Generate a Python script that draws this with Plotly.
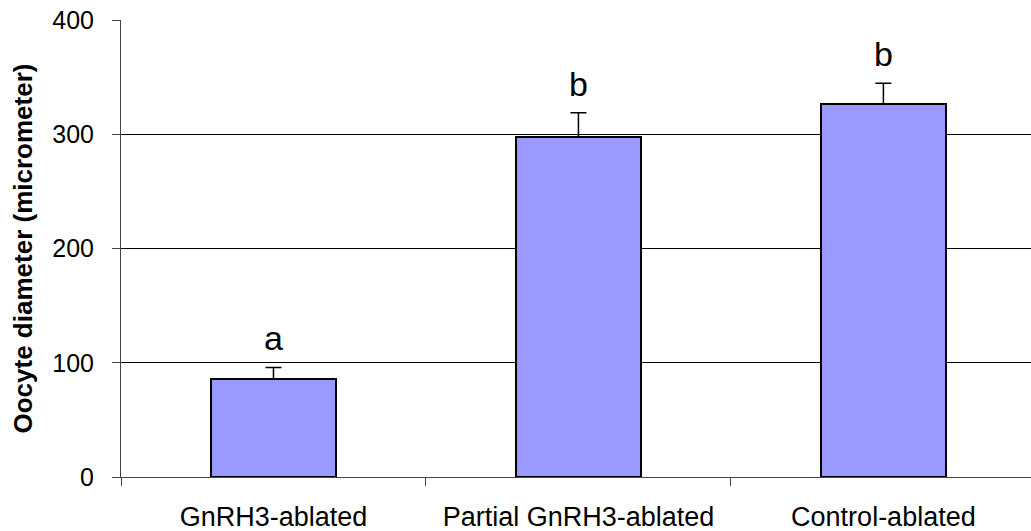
import plotly.graph_objects as go

categories = ["GnRH3-ablated", "Partial GnRH3-ablated", "Control-ablated"]
means = [86, 298, 327]
errors = [10, 21, 18]
letters = ["a", "b", "b"]
y_ticks = [0, 100, 200, 300, 400]
y_title = "<b>Oocyte diameter (micrometer)</b>"

FONT = "Liberation Sans, Arial, sans-serif"

fig = go.Figure()
fig.add_trace(go.Bar(
    x=categories, y=means, width=0.41,
    marker=dict(color="#9999FF", line=dict(color="black", width=2)),
    error_y=dict(type="data", symmetric=False, array=errors,
                 arrayminus=[0] * len(errors), color="black",
                 thickness=1.5, width=8),
))

for c, m, e, l in zip(categories, means, errors, letters):
    fig.add_annotation(x=c, y=m + e, text=l, showarrow=False,
                       yanchor="bottom", yshift=8,
                       font=dict(family=FONT, size=34, color="black"))

fig.add_annotation(x=0, y=0.5, xref="paper", yref="paper", text=y_title,
                   textangle=-90, showarrow=False, xanchor="center",
                   yanchor="middle", xshift=-99,
                   font=dict(family=FONT, size=26, color="black"))

fig.update_layout(
    width=1031, height=531,
    margin=dict(l=121, r=0, t=20, b=54),
    plot_bgcolor="white", paper_bgcolor="white",
    showlegend=False,
    font=dict(family=FONT, color="black"),
    bargap=0,
)
fig.update_xaxes(
    type="category", range=[-0.5, 2.484],
    showline=True, linecolor="#444", linewidth=1,
    ticks="outside", tickson="boundaries", ticklen=8, tickcolor="#444",
    ticklabelstandoff=16,
    showgrid=False, tickfont=dict(size=27, family=FONT),
)
fig.update_yaxes(
    range=[0, 400.3], tickvals=y_ticks,
    showline=True, linecolor="#444", linewidth=1,
    ticks="outside", ticklen=8, tickcolor="#444",
    ticklabelstandoff=13, ticklabeloverflow="allow",
    showgrid=True, gridcolor="black", gridwidth=1,
    zeroline=False, automargin=False,
    tickfont=dict(size=25, family=FONT),
)

fig.write_html("out.html", config={"displayModeBar": False},
               post_script="document.body.style.margin='0';")
